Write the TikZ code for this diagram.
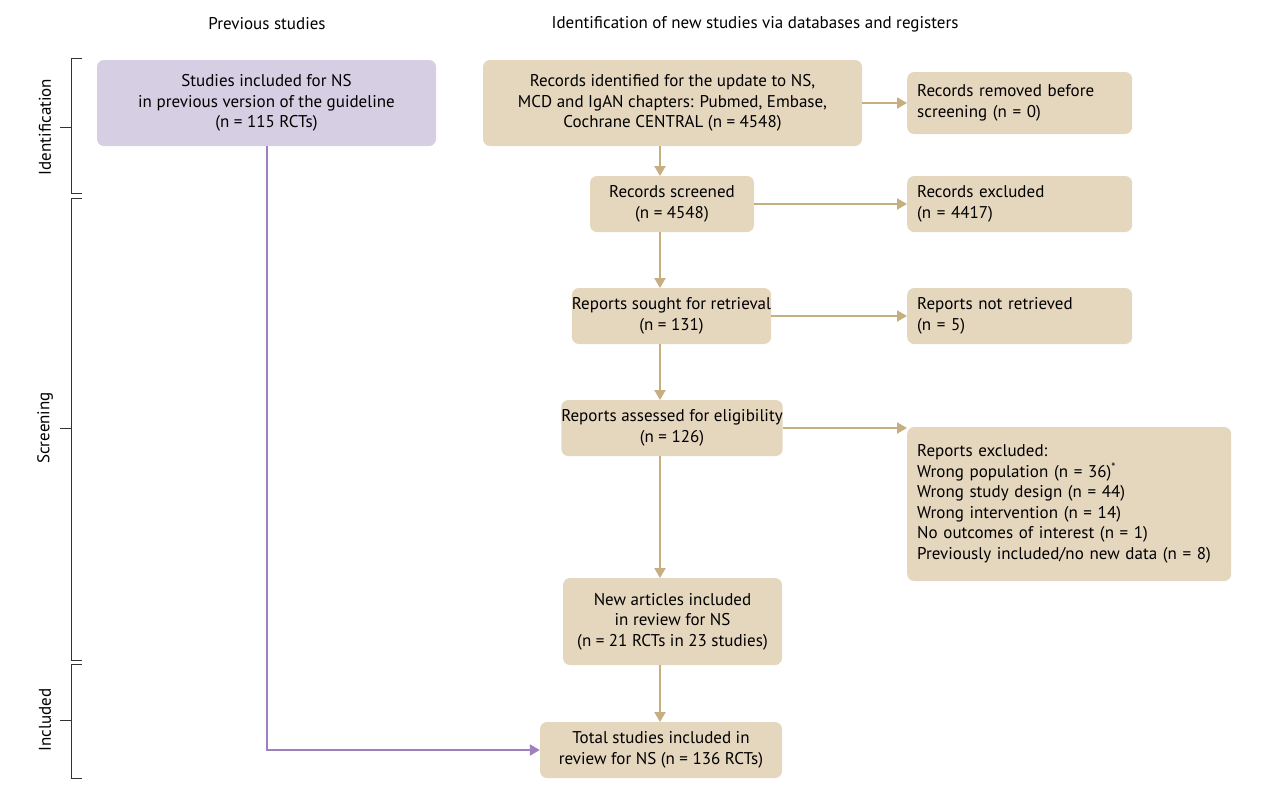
\documentclass[tikz,border=0pt]{standalone}
\usepackage{fontspec}
\setmainfont{PT Sans}
\usetikzlibrary{arrows.meta}
\definecolor{tanfill}{RGB}{229,214,190}
\definecolor{tanline}{RGB}{198,174,128}
\definecolor{purfill}{RGB}{214,206,227}
\definecolor{purline}{RGB}{158,128,190}
\tikzset{
 box/.style={fill=tanfill,rounded corners=7pt,align=center,inner sep=0pt,font=\fontsize{17}{20.5}\selectfont},
 lbox/.style={fill=tanfill,rounded corners=7pt,align=left,inner xsep=10pt,inner ysep=0pt,anchor=west,font=\fontsize{17}{20.5}\selectfont},
 arr/.style={draw=tanline,line width=2pt,-{Triangle[length=10pt,width=11pt]}},
 parr/.style={draw=purline,line width=2pt,-{Triangle[length=10pt,width=11pt]}},
 brk/.style={draw=black!80,line width=1pt},
 hdr/.style={font=\fontsize{17}{20}\selectfont},
}
\newcommand{\bx}[6]{\node[box,minimum width=#4-#2,minimum height=#5-#3] (#1) at ({(#2+#4)/2},{(#3+#5)/2}) {#6};}
\begin{document}
\begin{tikzpicture}[x=1pt,y=-1pt]
\useasboundingbox (0,0) rectangle (1284,796);
\node[hdr] (h1) at (267,24) {Previous studies};
\node[hdr] (h2) at (755,24) {Identification of new studies via databases and registers};
\node[box,fill=purfill,minimum width=339,minimum height=86] (prev) at (266.5,103) {Studies included for NS\\in previous version of the guideline\\(n = 115 RCTs)};
\bx{ident}{483}{60}{862}{146}{Records identified for the update to NS,\\MCD and IgAN chapters: Pubmed, Embase,\\Cochrane CENTRAL (n = 4548)}
\node[lbox,text width=205,minimum height=62] (removed) at (907,103) {Records removed before\\screening (n = 0)};
\bx{screen}{590}{176}{754}{232}{Records screened\\(n = 4548)}
\node[lbox,text width=205,minimum height=56] (excl) at (907,204) {Records excluded\\(n = 4417)};
\bx{sought}{577}{288}{766}{344}{Reports sought for retrieval\\(n = 131)}
\node[lbox,text width=205,minimum height=56] (notret) at (907,316) {Reports not retrieved\\(n = 5)};
\bx{assess}{566}{400}{778}{456}{Reports assessed for eligibility\\(n = 126)}
\node[lbox,text width=304,minimum height=154] (rexcl) at (907,504) {Reports excluded:\\Wrong population (n = 36)\textsuperscript{*}\\Wrong study design (n = 44)\\Wrong intervention (n = 14)\\No outcomes of interest (n = 1)\\Previously included/no new data (n = 8)};
\bx{newart}{563}{578}{782}{665}{New articles included\\in review for NS\\(n = 21 RCTs in 23 studies)}
\bx{total}{540}{722}{782}{778}{Total studies included in\\review for NS (n = 136 RCTs)}
\draw[arr] (ident) -- (ident.east -| removed.west);
\draw[arr] (660,146) -- (660,176);
\draw[arr] (screen) -- (screen.east -| excl.west);
\draw[arr] (660,232) -- (660,288);
\draw[arr] (sought.east) -- (sought.east -| notret.west);
\draw[arr] (660,344) -- (660,400);
\draw[arr] (assess) -- (assess.east -| rexcl.west);
\draw[arr] (660,456) -- (660,578);
\draw[arr] (660,665) -- (660,722);
\coordinate (pc) at (267,750);
\draw[parr] (prev.south -| pc) -- (pc) -- (total.west |- pc);
% brackets
\draw[brk] (82,58) -- (71,58) -- (71,193) -- (82,193) (60,127) -- (71,127);
\draw[brk] (82,198) -- (71,198) -- (71,660) -- (82,660) (60,428) -- (71,428);
\draw[brk] (82,664) -- (71,664) -- (71,778) -- (82,778) (60,720) -- (71,720);
\node[hdr,rotate=90] (l1) at (45,127) {Identification};
\node[hdr,rotate=90] (l2) at (45,428) {Screening};
\node[hdr,rotate=90] (l3) at (45,720) {Included};
\end{tikzpicture}
\end{document}
